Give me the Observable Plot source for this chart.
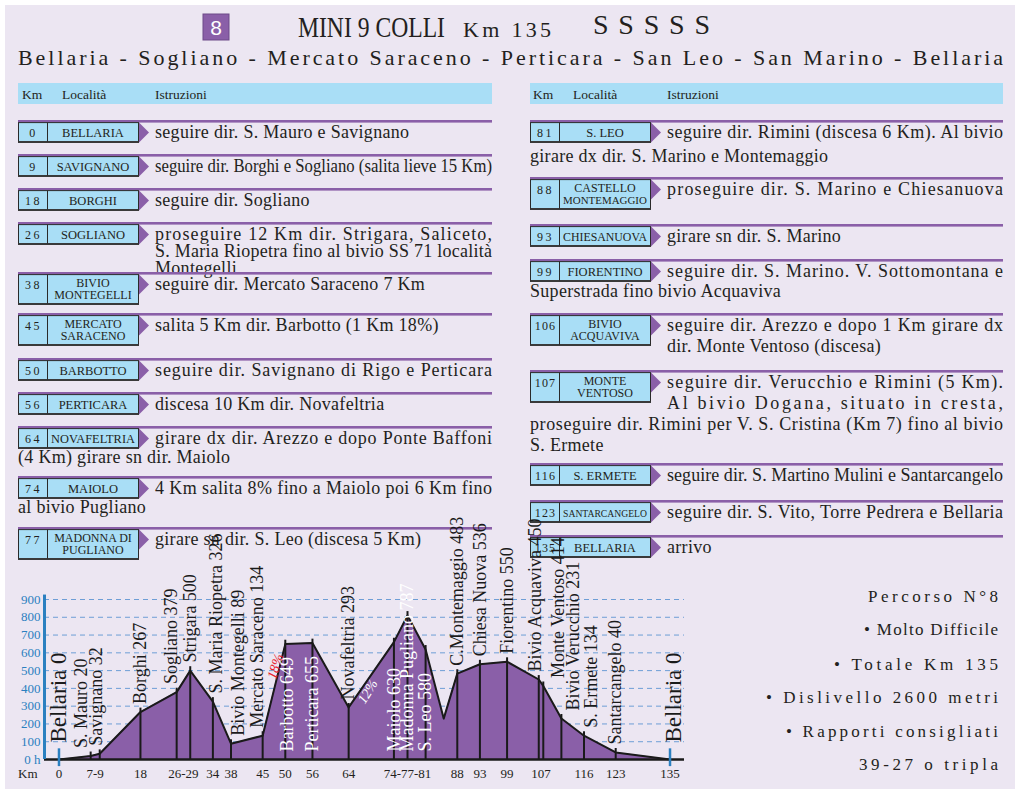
<!DOCTYPE html>
<html><head><meta charset="utf-8">
<script src="https://cdn.jsdelivr.net/npm/d3@7"></script>
<script src="https://cdn.jsdelivr.net/npm/@observablehq/plot@0.6"></script>
<style>
html,body{margin:0;padding:0;background:#fff;}
#page{position:relative;width:1020px;height:794px;overflow:hidden;font-family:"Liberation Serif",serif;}
#bg{position:absolute;left:0;top:0;}
#chart{position:absolute;left:0;top:530px;}
g[aria-label="y-ticks"] text{letter-spacing:1px;}
</style></head>
<body><div id="page"><svg id="bg" width="1020" height="794"></svg><div id="chart"></div></div>
<script>
// ---------- DATA ----------
const profileKm   = [0, 7, 9, 18, 26, 29, 34, 38, 45, 50, 56, 64, 74, 77, 81, 85, 88, 93, 99, 106, 107, 111, 116, 123, 135];
const profileElev = [0, 20, 32, 267, 379, 500, 326, 89, 134, 649, 655, 293, 660, 810, 619, 230, 483, 536, 550, 450, 414, 231, 134, 40, 0];

const placeName = ["Bellaria","S. Mauro","Savignano","Borghi","Sogliano","Strigara","S. Maria Riopetra","Bivio Montegelli","Mercato Saraceno","Barbotto","Perticara","Novafeltria","Maiolo","Madonna Pugliano","S. Leo","C.Montemaggio","Chiesa Nuova","Fiorentino","Bivio Acquaviva","Monte Ventoso","Bivio Verucchio","S. Ermete","Santarcangelo","Bellaria"];
const placeKm   = [0, 7, 9, 18, 26, 29, 34, 38, 45, 50, 56, 64, 74, 77, 81, 88, 93, 99, 106, 107, 111, 116, 123, 135];
const placeElev = [0, 20, 32, 267, 379, 500, 326, 89, 134, 649, 655, 293, 630, 787, 580, 483, 536, 550, 450, 414, 231, 134, 40, 0];
const insideLabels = ["Barbotto","Perticara","Maiolo","Madonna Pugliano","S. Leo"];

const yTicks = [0, 100, 200, 300, 400, 500, 600, 700, 800, 900];
const xTickPos  = [0, 8, 18, 27.5, 34, 38, 45, 50, 56, 64, 77, 88, 93, 99, 106.5, 116, 123, 135];
const xTickText = ["0","7-9","18","26-29","34","38","45","50","56","64","74-77-81","88","93","99","107","116","123","135"];

const gradeKm = [47.8, 68.2];
const gradeElev = [523, 382];
const gradeText = ["18%", "12%"];

const leftKm  = ["0","9","18","26","38","45","50","56","64","74","77"];
const leftLoc = ["BELLARIA","SAVIGNANO","BORGHI","SOGLIANO","BIVIO|MONTEGELLI","MERCATO|SARACENO","BARBOTTO","PERTICARA","NOVAFELTRIA","MAIOLO","MADONNA DI|PUGLIANO"];
const leftText = [
 ["seguire dir. S. Mauro e Savignano"],
 ["seguire dir. Borghi e Sogliano (salita lieve 15 Km)"],
 ["seguire dir. Sogliano"],
 ["proseguire 12 Km dir. Strigara, Saliceto,", "S. Maria Riopetra fino al bivio SS 71 località", "Montegelli"],
 ["seguire dir. Mercato Saraceno 7 Km"],
 ["salita 5 Km dir. Barbotto (1 Km 18%)"],
 ["seguire dir. Savignano di Rigo e Perticara"],
 ["discesa 10 Km dir. Novafeltria"],
 ["girare dx dir. Arezzo e dopo Ponte Baffoni", "(4 Km) girare sn dir. Maiolo"],
 ["4 Km salita 8% fino a Maiolo poi 6 Km fino", "al bivio Pugliano"],
 ["girare sn dir. S. Leo (discesa 5 Km)"]
];
const rightKm  = ["81","88","93","99","106","107","116","123","135"];
const rightLoc = ["S. LEO","CASTELLO|MONTEMAGGIO","CHIESANUOVA","FIORENTINO","BIVIO|ACQUAVIVA","MONTE|VENTOSO","S. ERMETE","SANTARCANGELO","BELLARIA"];
const rightText = [
 ["seguire dir. Rimini (discesa 6 Km). Al bivio", "girare dx dir. S. Marino e Montemaggio"],
 ["proseguire dir. S. Marino e Chiesanuova"],
 ["girare sn dir. S. Marino"],
 ["seguire dir. S. Marino. V. Sottomontana e", "Superstrada fino bivio Acquaviva"],
 ["seguire dir. Arezzo e dopo 1 Km girare dx", "dir. Monte Ventoso (discesa)"],
 ["seguire dir. Verucchio e Rimini (5 Km).", "Al bivio Dogana, situato in cresta,", "proseguire dir. Rimini per V. S. Cristina (Km 7) fino al bivio", "S. Ermete"],
 ["seguire dir. S. Martino Mulini e Santarcangelo"],
 ["seguire dir. S. Vito, Torre Pedrera e Bellaria"],
 ["arrivo"]
];
const statsText = ["Percorso N°8", "• Molto Difficile", "• Totale Km 135", "• Dislivello 2600 metri", "• Rapporti consigliati", "39-27 o tripla"];

// ---------- LAYOUT (positions / styles) ----------
const purple = "#8a5fa8", lightBlue = "#a9def6", blue = "#2b80c0", dark = "#231f20", lavender = "#ece6f2";
const leftRowTop  = [120,154,188,222,272,313,358,392,426,476,527];
const leftModes   = [["i"],["ij"],["i"],["ij","ij","i"],["i"],["i"],["ij"],["i"],["ij","c"],["ij","c"],["i"]];
const leftGap     = [20,20,20,17,20,20,20,20,19,19,20];
const rightRowTop = [120,177,224,259,313,370,463,500,535];
const rightModes  = [["ij","c"],["ij"],["i"],["ij","c"],["ij","i"],["ij","ij","cj","c"],["ij"],["ij"],["i"]];
const rightGap    = [24,20,20,20,21,21,20,20,20];
const statsY = [602, 635, 670, 703, 737, 770];
const statsW = [130, 134, 164, 232, 212, 139];
const labelShift = {7:-2, 9:-0.7, 26:-1.3, 34:0.8, 38:1.6, 45:-1.1, 50:0.5, 106:-0.8, 107:3.2, 111:2.6, 116:1.6, 135:0.8};

// ---------- BACKGROUND / HEADER / TABLE ----------
const bg = d3.select("#bg");
bg.append("rect").attr("width",1020).attr("height",794).attr("fill","#fff");
bg.append("rect").attr("x",5).attr("y",5).attr("width",1010).attr("height",784).attr("fill",lavender);
const F = "Liberation Serif, serif";
function txt(g, x, y, s, fs, opts = {}) {
  const t = g.append("text").attr("x", x).attr("y", y).attr("font-family", opts.family || F)
    .attr("font-size", fs).attr("fill", opts.fill || dark).text(s);
  if (opts.anchor) t.attr("text-anchor", opts.anchor);
  if (opts.ls) t.attr("letter-spacing", opts.ls);
  if (opts.len) {
    const w = t.node().getComputedTextLength();
    t.attr("textLength", opts.len).attr("lengthAdjust", (w > opts.len || opts.glyphs) ? "spacingAndGlyphs" : "spacing");
  }
  return t;
}
// header
bg.append("rect").attr("x",203).attr("y",14).attr("width",26).attr("height",26).attr("fill",purple).attr("stroke","#6d4a88");
txt(bg, 216, 35, "8", 21, {fill:"#fff", anchor:"middle", family:"Liberation Sans, sans-serif"});
{
  // condensed title: horizontal scale so its box matches the narrow original lettering
  const tg = bg.append("g").attr("transform", "translate(298,37)");
  const t = txt(tg, 0, 0, "MINI 9 COLLI", 30);
  const w = t.node().getComputedTextLength();
  tg.attr("transform", `translate(298,37) scale(${147 / w},1)`);
}
txt(bg, 463, 37, "Km 135", 22, {len:88});
txt(bg, 593, 34, "S S S S S", 28, {len:117});
txt(bg, 18, 65, "Bellaria - Sogliano - Mercato Saraceno - Perticara - San Leo - San Marino - Bellaria", 22, {len:985});
// column header bars
[[18,474,[22,62,155]],[530,473,[533,573,667]]].forEach(([x,w,cols]) => {
  bg.append("rect").attr("x",x).attr("y",83).attr("width",w).attr("height",21).attr("fill",lightBlue);
  ["Km","Località","Istruzioni"].forEach((s,i) => txt(bg, cols[i], 99, s, 13.5));
});

function drawRow(colX, colW, top, km, loc, lines, modes, gap) {
  const g = bg.append("g");
  g.append("rect").attr("x",colX).attr("y",top).attr("width",colW).attr("height",2.6).attr("fill",purple);
  const locLines = loc.split("|");
  const by = top + 2.6, bh = locLines.length > 1 ? 29 : 19;
  g.append("rect").attr("x",colX+0.5).attr("y",by).attr("width",120).attr("height",bh)
    .attr("fill",lightBlue).attr("stroke","#2a2a2a").attr("stroke-width",1);
  g.append("line").attr("x1",colX).attr("x2",colX+121).attr("y1",by+bh+0.6).attr("y2",by+bh+0.6).attr("stroke","#3a3a3a").attr("stroke-width",1.4);
  g.append("line").attr("x1",colX+29.5).attr("x2",colX+29.5).attr("y1",by).attr("y2",by+bh).attr("stroke","#2a2a2a");
  g.append("path").attr("d",`M${colX+121},${by} L${colX+131},${by+10} L${colX+121},${by+20} Z`).attr("fill",purple);
  txt(g, colX+15.5, by+14, km, 12, {anchor:"middle", ls: km.length === 3 ? 1.2 : 2.5});
  locLines.forEach((s, i) => {
    const base = locLines.length > 1 ? by + 12 + i*12 : by + 14;
    const fs0 = locLines.length > 1 ? 12 : 12.5;
    const t = txt(g, colX+75, base, s, fs0, {anchor:"middle"});
    const w = t.node().getComputedTextLength();
    if (w > 84) t.attr("font-size", fs0 * 84 / w);
  });
  lines.forEach((s, i) => {
    const m = modes[i];
    const x = m[0] === "i" ? colX + 137 : colX;
    const w = colX + colW - x;
    txt(g, x, top + 18 + i*gap, s, 18, m.includes("j") ? {len: w} : {ls: 0.3});
  });
}
leftKm.forEach((k,i) => drawRow(18, 474, leftRowTop[i], k, leftLoc[i], leftText[i], leftModes[i], leftGap[i]));
rightKm.forEach((k,i) => drawRow(530, 473, rightRowTop[i], k, rightLoc[i], rightText[i], rightModes[i], rightGap[i]));
statsText.forEach((s,i) => txt(bg, 998, statsY[i], s, 17, {anchor:"end", len: statsW[i]}));

// ---------- CHART ----------
const xDomain = [-3.2, 138.2];
const profile = profileKm.map((k,i) => ({km:k, elev:profileElev[i]}));
const profAt = new Map(profile.map(d => [d.km, d.elev]));
const places = placeName.map((n,i) => ({name:n, km:placeKm[i], elev:placeElev[i], base:profAt.get(placeKm[i])}));
const insideSet = new Set(insideLabels);
const ends = places.filter(d => d.km === placeKm[0] || d.km === placeKm[placeKm.length-1]);
const stems = places.filter(d => !ends.includes(d));
const outside = stems.filter(d => !insideSet.has(d.name));
const inside = stems.filter(d => insideSet.has(d.name));
const labelX = d => d.km + (labelShift[d.km] || 0);
const labelText = d => `${d.name} ${d.elev}`;

const chart = Plot.plot({
  width: 700, height: 259,
  marginLeft: 44, marginRight: 16, marginTop: 69, marginBottom: 30,
  x: {domain: xDomain, axis: null},
  y: {domain: [0, 900], axis: null},
  style: {background: "transparent", overflow: "visible", fontFamily: F},
  marks: [
    Plot.ruleY(yTicks.filter(d => d > 0), {stroke: "#6e9ed6", strokeDasharray: "5,4", strokeWidth: 1}),
    Plot.areaY(profile, {x: "km", y: "elev", fill: purple}),
    Plot.ruleX(stems, {x: "km", y1: 0, y2: d => d.base + 22, stroke: "#1a1a1a", strokeWidth: 2}),
    Plot.line(profile, {x: "km", y: "elev", stroke: "#1a1a1a", strokeWidth: 2}),
    Plot.ruleY([0], {stroke: "#1a1a1a", strokeWidth: 2.5}),
    Plot.ruleX([xDomain[0]], {y1: 0, y2: 925, stroke: blue, strokeWidth: 3}),
    Plot.ruleX(ends, {x: "km", y1: -40, y2: 60, stroke: blue, strokeWidth: 2.5}),
    Plot.text(yTicks, {x: xDomain[0], y: d => d, text: d => d === 0 ? "0 h" : String(d), textAnchor: "end", dx: -4, fill: blue, fontSize: 13, ariaLabel: "y-ticks"}),
    Plot.text(xTickText, {x: (d,i) => xTickPos[i], y: 0, dy: 14, text: d => d, fontSize: 13, fill: dark}),
    Plot.text(["Km"], {x: xDomain[0], y: 0, dy: 14, dx: -7, text: d => d, textAnchor: "end", fontSize: 13, fill: dark}),
    Plot.text(outside, {x: labelX, y: "base", text: labelText, rotate: -90, textAnchor: "start", lineAnchor: "middle", dy: -8, fontSize: 18, fill: "#1a1a1a", ariaLabel: "outside-labels"}),
    Plot.text(inside, {x: labelX, y: 0, text: labelText, rotate: -90, textAnchor: "start", lineAnchor: "middle", dy: -8, fontSize: 18, fill: "#ffffff"}),
    Plot.text(ends, {x: labelX, y: 0, text: labelText, rotate: -90, textAnchor: "start", lineAnchor: "middle", dy: -17, fontSize: 23, fill: "#1a1a1a", ariaLabel: "end-labels"}),
    Plot.text(gradeText.slice(0,1), {x: gradeKm[0], y: gradeElev[0], text: d => d, rotate: -72, fontStyle: "italic", fontSize: 14, fill: "#e8202a"}),
    Plot.text(gradeText.slice(1), {x: gradeKm[1], y: gradeElev[1], text: d => d, rotate: -58, fontStyle: "italic", fontSize: 14, fill: "#ffffff"})
  ]
});
document.getElementById("chart").appendChild(chart);
// two-colour labels: name in black, height in blue
d3.select(chart).selectAll('g[aria-label="outside-labels"] text, g[aria-label="end-labels"] text').each(function() {
  const s = this.textContent, k = s.lastIndexOf(" ");
  this.textContent = "";
  d3.select(this).append("tspan").text(s.slice(0, k) + " ");
  d3.select(this).append("tspan").attr("fill", blue).text(s.slice(k + 1));
});
</script></body></html>
